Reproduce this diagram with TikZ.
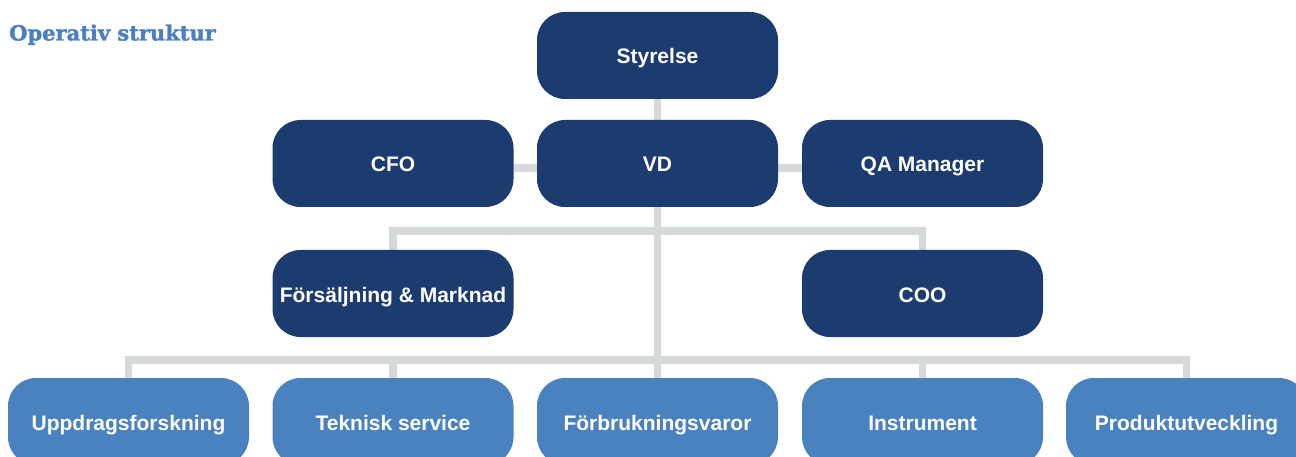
\documentclass[tikz,border=0pt]{standalone}
\usepackage{fontspec}
\setmainfont{Liberation Sans}
\newfontfamily\titlefont[BoldFeatures={FakeBold=1.6}]{DejaVu Serif}
\usetikzlibrary{backgrounds}
\definecolor{navy}{HTML}{1C3B6F}
\definecolor{lightblue}{HTML}{4A82C0}
\definecolor{conn}{HTML}{D5D9DA}
\definecolor{titleblue}{HTML}{4A80C0}
\tikzset{
  box/.style={rectangle, rounded corners=28pt, minimum width=241pt, minimum height=87pt,
    inner sep=0pt, text height=17pt, text depth=0pt, text=white,
    font=\fontsize{21}{25}\selectfont\bfseries},
  topbox/.style={box, fill=navy},
  unitbox/.style={box, fill=lightblue},
  link/.style={draw=conn, line width=7.5pt, line join=miter}
}
\begin{document}
\begin{tikzpicture}[x=1pt,y=-1pt]
\useasboundingbox (0,0) rectangle (1296,457);
\clip (0,0) rectangle (1296,457);
\node[anchor=base west, inner sep=0pt, text=titleblue, font=\titlefont\fontsize{21}{24}\selectfont\bfseries] (title) at (9,40.5) {Operativ struktur};
\node[topbox] (sty) at (657.5,55.5) {Styrelse};
\node[topbox] (cfo) at (393,163.5) {CFO};
\node[topbox] (vd) at (657.5,163.5) {VD};
\node[topbox] (qa) at (922.5,163.5) {QA Manager};
\node[topbox] (fsm) at (393,293.5) {Försäljning \& Marknad};
\node[topbox] (coo) at (922.5,293.5) {COO};
\node[unitbox] (u1) at (128.5,421.5) {Uppdragsforskning};
\node[unitbox] (u2) at (393,421.5) {Teknisk service};
\node[unitbox] (u3) at (657.5,421.5) {Förbrukningsvaror};
\node[unitbox] (u4) at (922.5,421.5) {Instrument};
\node[unitbox] (u5) at (1186.5,421.5) {Produktutveckling};
\coordinate (b1) at (657.5,231);
\coordinate (b2) at (657.5,360);
\begin{pgfonlayer}{background}
\draw[link] (sty.south) -- (vd.north);
\draw[link] ([yshift=-4.5pt]cfo.east) -- ([yshift=-4.5pt]vd.west);
\draw[link] ([yshift=-4.5pt]vd.east) -- ([yshift=-4.5pt]qa.west);
\draw[link] (vd.south) -- (b2);
\draw[link] (fsm.north) |- (b1) -| (coo.north);
\draw[link] (u1.north) |- (b2) -| (u5.north);
\draw[link] (u2.north) -- (u2.north |- b2);
\draw[link] (u3.north) -- (b2);
\draw[link] (u4.north) -- (u4.north |- b2);
\end{pgfonlayer}
\end{tikzpicture}
\end{document}
